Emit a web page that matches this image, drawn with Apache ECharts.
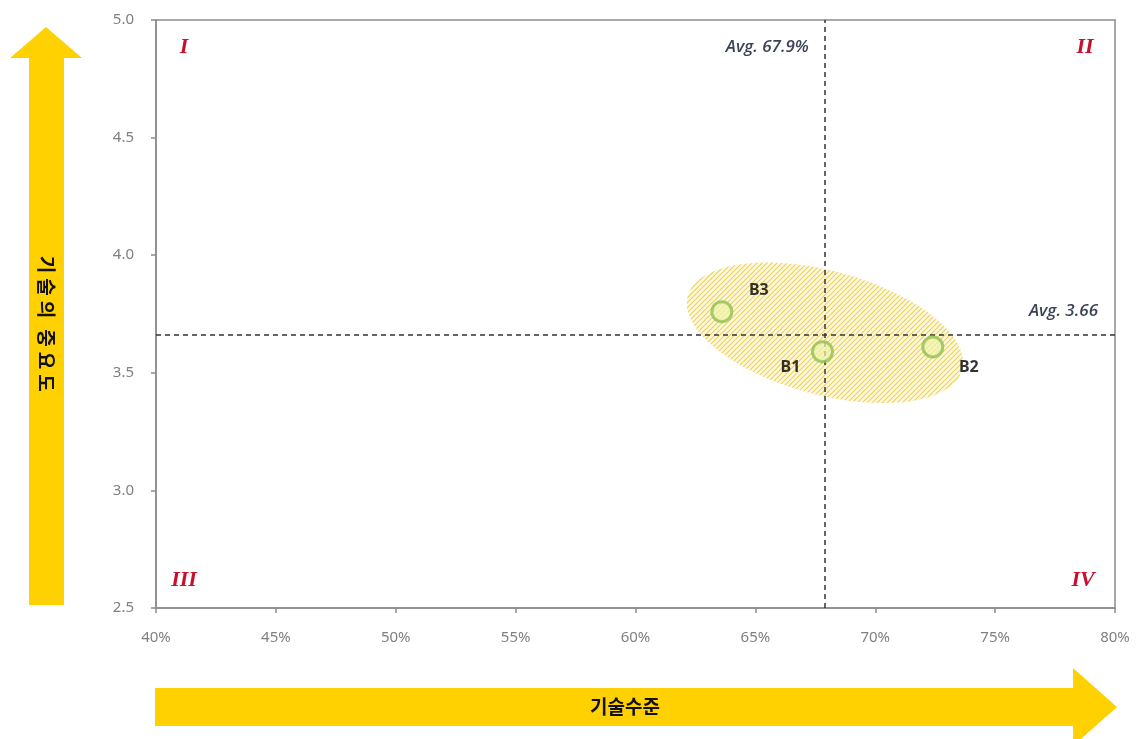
<!DOCTYPE html>
<html>
<head>
<meta charset="utf-8">
<script src="https://cdn.jsdelivr.net/npm/echarts@6/dist/echarts.min.js"></script>
<style>
  html, body { margin: 0; padding: 0; background: #fff; }
  #chart { width: 1138px; height: 739px; }
</style>
</head>
<body>
<div id="chart"></div>
<script>
// 기술별 기술수준(%) / 기술의 중요도
const techNames = ['B1', 'B2', 'B3'];
const techLevel = [67.8, 72.4, 63.6];
const techImportance = [3.59, 3.61, 3.76];

// 평균선
const avgLevel = 67.9;
const avgImportance = 3.66;

// 축 범위와 눈금
const xTickValues = [40, 45, 50, 55, 60, 65, 70, 75, 80];
const yTickValues = [2.5, 3.0, 3.5, 4.0, 4.5, 5.0];

// 사분면 표기 (좌상, 우상, 좌하, 우하)
const quadrantLabels = ['I', 'II', 'III', 'IV'];

// 기술군 영역(타원) 중심
const clusterCenter = [67.9, 3.67];

const axisTitleX = '기술수준';
const axisTitleY = '기술의 중요도';

const xMin = xTickValues[0], xMax = xTickValues[xTickValues.length - 1];
const yMin = yTickValues[0], yMax = yTickValues[yTickValues.length - 1];

const chart = echarts.init(document.getElementById('chart'));

// 빗금 패턴
function makeHatch() {
  const c = document.createElement('canvas');
  c.width = 5; c.height = 5;
  const g = c.getContext('2d');
  g.fillStyle = '#FEF9E2';
  g.fillRect(0, 0, 5, 5);
  g.strokeStyle = '#EDCF55';
  g.lineWidth = 1.1;
  g.beginPath();
  g.moveTo(-1, 6); g.lineTo(6, -1);
  g.moveTo(-1, 1); g.lineTo(1, -1);
  g.moveTo(4, 6); g.lineTo(6, 4);
  g.stroke();
  return c;
}
const hatch = makeHatch();

const YELLOW = '#FFD100';
const korFont = '"Noto Sans CJK KR", "Noto Sans", sans-serif';

// 세로 화살표 글자 (한 글자씩 세로로 배치)
function verticalTitle(text, cx, topY) {
  const children = [];
  let y = topY;
  for (const ch of text) {
    if (ch === ' ') { y += 6; continue; }
    children.push({
      type: 'text', z: 10,
      x: cx, y: y + 10.5,
      rotation: -Math.PI / 2,
      style: {
        text: ch, fill: '#111', font: 'bold 19px ' + korFont,
        align: 'center', verticalAlign: 'middle'
      }
    });
    y += 22.5;
  }
  return children;
}

const option = {
  animation: false,
  backgroundColor: '#fff',
  grid: {
    left: 156, right: 23, top: 20, bottom: 131,
    show: true, borderColor: '#8c8c8c', borderWidth: 1.5, backgroundColor: 'transparent'
  },
  xAxis: {
    type: 'value', min: xMin, max: xMax, interval: 5,
    axisLine: { show: true, lineStyle: { color: '#8c8c8c', width: 1.5 } },
    axisTick: { show: true, length: 5, lineStyle: { color: '#8c8c8c', width: 1.5 } },
    axisLabel: {
      color: '#808080', fontSize: 15, margin: 22, fontFamily: '"Noto Sans", sans-serif',
      formatter: v => v + '%'
    },
    splitLine: { show: false }
  },
  yAxis: {
    type: 'value', min: yMin, max: yMax, interval: 0.5,
    axisLine: { show: true, lineStyle: { color: '#8c8c8c', width: 1.5 } },
    axisTick: { show: true, length: 5, lineStyle: { color: '#8c8c8c', width: 1.5 } },
    axisLabel: {
      color: '#808080', fontSize: 15, margin: 22, fontFamily: '"Noto Sans", sans-serif',
      formatter: v => v.toFixed(1)
    },
    splitLine: { show: false }
  },
  graphic: [
    {
      type: 'polygon', z: 5,
      shape: { points: [[29, 605], [29, 58], [10, 58], [46, 27], [82, 58], [64, 58], [64, 605]] },
      style: { fill: YELLOW }
    },
    ...verticalTitle(axisTitleY, 46, 254),
    {
      type: 'polygon', z: 5,
      shape: { points: [[155, 688], [1073, 688], [1073, 668], [1117, 707], [1073, 746], [1073, 726], [155, 726]] },
      style: { fill: YELLOW }
    },
    {
      type: 'text', z: 10, x: 625, y: 707,
      style: {
        text: axisTitleX, fill: '#111', font: 'bold 19px ' + korFont,
        align: 'center', verticalAlign: 'middle'
      }
    }
  ],
  series: [
    {
      // 기술군 영역
      type: 'custom', z: 1, silent: true,
      data: [clusterCenter],
      renderItem: function (params, api) {
        const c = api.coord([api.value(0), api.value(1)]);
        const a = 142, b = 62, th = 15 * Math.PI / 180;
        const pts = [];
        for (let i = 0; i < 120; i++) {
          const t = i / 120 * Math.PI * 2;
          pts.push([
            c[0] + a * Math.cos(t) * Math.cos(th) - b * Math.sin(t) * Math.sin(th),
            c[1] + a * Math.cos(t) * Math.sin(th) + b * Math.sin(t) * Math.cos(th)
          ]);
        }
        return {
          type: 'polygon',
          shape: { points: pts },
          style: { fill: { image: hatch, repeat: 'repeat' }, stroke: null }
        };
      }
    },
    {
      // 평균선
      type: 'line', z: 3, data: [], silent: true,
      markLine: {
        silent: true, symbol: ['none', 'none'],
        lineStyle: { color: '#333', width: 1.5, type: [5, 4] },
        label: { show: false },
        data: [{ xAxis: avgLevel }, { yAxis: avgImportance }]
      }
    },
    {
      // 평균값 및 사분면 표기
      type: 'custom', z: 6, silent: true,
      data: [[0]],
      renderItem: function (params, api) {
        const topAvg = api.coord([avgLevel, yMax]);
        const rightAvg = api.coord([xMax, avgImportance]);
        const tl = api.coord([xMin, yMax]), tr = api.coord([xMax, yMax]);
        const bl = api.coord([xMin, yMin]), br = api.coord([xMax, yMin]);
        const avgFont = 'italic 600 17px "Open Sans", "Noto Sans", sans-serif';
        const romanFont = 'italic bold 22px "Liberation Serif", "DejaVu Serif", serif';
        const romanPos = [
          [tl[0] + 28, tl[1] + 27], [tr[0] - 30, tr[1] + 27],
          [bl[0] + 28, bl[1] - 28], [br[0] - 32, br[1] - 28]
        ];
        const children = [
          {
            type: 'text', x: topAvg[0] - 16, y: topAvg[1] + 27,
            style: { text: 'Avg. ' + avgLevel.toFixed(1) + '%', font: avgFont, fill: '#3b4456', align: 'right', verticalAlign: 'middle' }
          },
          {
            type: 'text', x: rightAvg[0] - 17, y: rightAvg[1] - 24,
            style: { text: 'Avg. ' + avgImportance.toFixed(2), font: avgFont, fill: '#3b4456', align: 'right', verticalAlign: 'middle' }
          }
        ];
        quadrantLabels.forEach((q, i) => {
          children.push({
            type: 'text', x: romanPos[i][0], y: romanPos[i][1],
            style: { text: q, font: romanFont, fill: '#C8102E', align: 'center', verticalAlign: 'middle' }
          });
        });
        return { type: 'group', children: children };
      }
    },
    {
      // 기술별 위치
      type: 'scatter', z: 8,
      symbol: 'circle', symbolSize: 20,
      itemStyle: { color: 'rgba(238,242,170,0.9)', borderColor: '#8DC153', borderWidth: 3 },
      label: {
        show: true, position: 'inside', color: '#000', fontSize: 16, fontWeight: 'bold',
        fontFamily: '"Noto Sans", sans-serif',
        formatter: p => p.name
      },
      data: techNames.map((n, i) => {
        const offsets = { B1: [-32, 16], B2: [36, 21], B3: [37, -21] };
        return { name: n, value: [techLevel[i], techImportance[i]], label: { offset: offsets[n] } };
      })
    }
  ]
};

chart.setOption(option);
</script>
</body>
</html>
